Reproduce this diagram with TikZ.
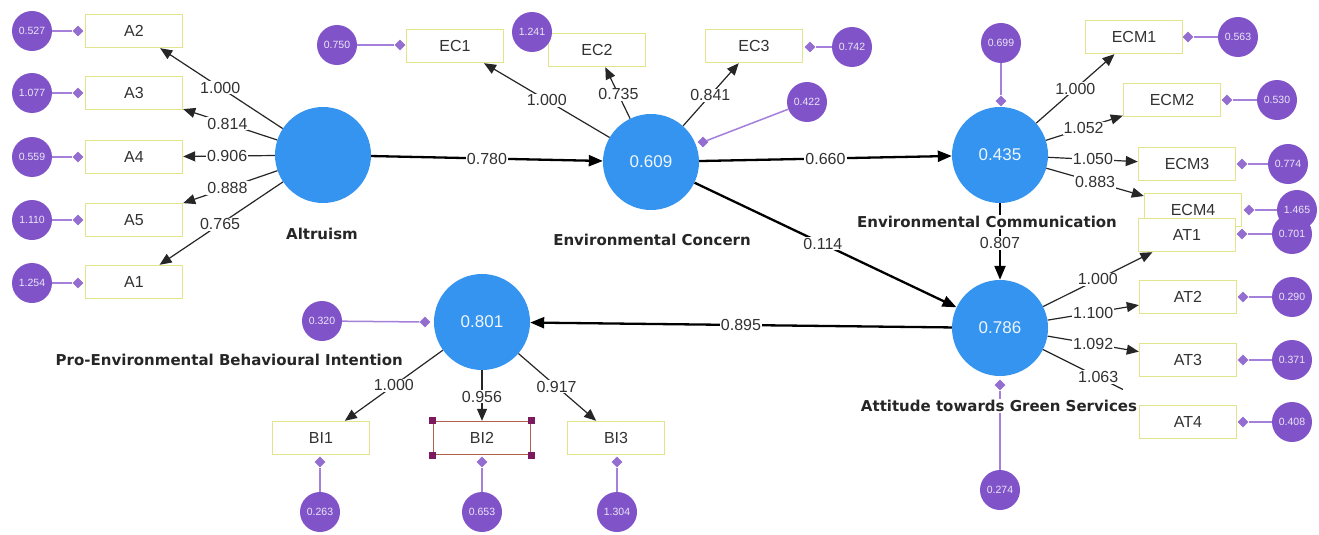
\documentclass[tikz,border=0pt]{standalone}
\usepackage{fontspec}
\setmainfont{Liberation Sans}
\newfontfamily\namefont{DejaVu Sans}
\usetikzlibrary{arrows.meta,shapes.geometric,calc}
\definecolor{lvblue}{RGB}{52,148,240}
\definecolor{respurple}{RGB}{128,84,200}
\definecolor{reslilac}{RGB}{165,128,218}
\definecolor{boxyel}{RGB}{226,228,140}
\definecolor{selbrown}{RGB}{175,95,75}
\definecolor{handlecol}{RGB}{125,25,95}
\definecolor{txtgray}{RGB}{50,50,50}
\begin{document}
\begin{tikzpicture}[x=1pt,y=-1pt,
  lv/.style={circle,fill=lvblue,minimum size=96pt,inner sep=0,text=white!92!lvblue,font=\fontsize{17}{19}\selectfont},
  ind/.style={draw=boxyel,line width=1.4pt,fill=white,minimum width=97pt,minimum height=33pt,inner sep=0,text=txtgray,font=\fontsize{16}{18}\selectfont},
  rc/.style={circle,fill=respurple,minimum size=40pt,inner sep=0,text=white!85!respurple,font=\fontsize{10.5}{11}\selectfont},
  dm/.style={diamond,fill=respurple!85,minimum size=11pt,inner sep=0},
  resline/.style={draw=reslilac,line width=1.5pt},
  struct/.style={draw=black,line width=2.3pt,-{Triangle[length=14pt,width=11pt]}},
  load/.style={draw=black!85,line width=1.2pt,-{Triangle[length=12pt,width=10pt]}},
  plainload/.style={draw=black!85,line width=1.2pt},
  lbl/.style={fill=white,inner sep=1pt,text=txtgray,font=\fontsize{16}{18}\selectfont},
  lvname/.style={fill=white,inner sep=1pt,text=black!85,font=\namefont\bfseries\fontsize{15}{17}\selectfont},
  handle/.style={rectangle,fill=handlecol,minimum size=7pt,inner sep=0},
]
\useasboundingbox[fill=white] (0,0) rectangle (1319,535);

% latent variables
\node[lv] (alt) at (323,155) {};
\node[lv] (ec) at (651,162) {0.609};
\node[lv] (ecm) at (1000,155) {0.435};
\node[lv] (at) at (1000,328) {0.786};
\node[lv] (bi) at (482,322) {0.801};

% indicators
\node[ind] (A2) at (134,31) {A2};
\node[ind] (A3) at (134,93) {A3};
\node[ind] (A4) at (134,157) {A4};
\node[ind] (A5) at (134,220) {A5};
\node[ind] (A1) at (134,282) {A1};

\node[ind] (EC1) at (455,46) {EC1};
\node[ind] (EC2) at (597,50) {EC2};
\node[ind] (EC3) at (754,46) {EC3};
\node[rc] (rEC2) at (532,32) {1.241};

\node[ind] (ECM1) at (1134,37) {ECM1};
\node[ind] (ECM2) at (1172,100) {ECM2};
\node[ind] (ECM3) at (1187,164) {ECM3};
\node[ind] (ECM4) at (1193,210) {ECM4};
\node[ind] (AT1) at (1187,235) {AT1};
\node[ind] (AT2) at (1188,297) {AT2};
\node[ind] (AT3) at (1188,360) {AT3};
\node[ind] (AT4) at (1188,422) {AT4};

\node[ind] (BI1) at (321,438) {BI1};
\node[ind,draw=selbrown] (BI2) at (482,438) {BI2};
\node[ind] (BI3) at (616,438) {BI3};
\node[handle] (h1) at (BI2.north west) {};
\node[handle] (h2) at (BI2.north east) {};
\node[handle] (h3) at (BI2.south west) {};
\node[handle] (h4) at (BI2.south east) {};

% indicator residuals
\node[rc] (rA2) at (32,31) {0.527};  \node[dm] (dA2) at (78,31) {};
\node[rc] (rA3) at (32,93) {1.077};  \node[dm] (dA3) at (78,93) {};
\node[rc] (rA4) at (32,157) {0.559}; \node[dm] (dA4) at (78,157) {};
\node[rc] (rA5) at (32,220) {1.110}; \node[dm] (dA5) at (78,220) {};
\node[rc] (rA1) at (32,283) {1.254}; \node[dm] (dA1) at (78,283) {};
\draw[resline] (rA2) -- (dA2);
\draw[resline] (rA3) -- (dA3);
\draw[resline] (rA4) -- (dA4);
\draw[resline] (rA5) -- (dA5);
\draw[resline] (rA1) -- (dA1);

\node[rc] (rEC1) at (337,45) {0.750}; \node[dm] (dEC1) at (400,45) {};
\node[rc] (rEC3) at (852,47) {0.742}; \node[dm] (dEC3) at (810,47) {};
\draw[resline] (rEC1) -- (dEC1);
\draw[resline] (rEC3) -- (dEC3);

\node[rc] (rECM1) at (1238,37) {0.563};  \node[dm] (dECM1) at (1188,37) {};
\node[rc] (rECM2) at (1277,100) {0.530}; \node[dm] (dECM2) at (1227,100) {};
\node[rc] (rECM3) at (1288,164) {0.774}; \node[dm] (dECM3) at (1242,164) {};
\draw[resline] (rECM1) -- (dECM1);
\draw[resline] (rECM2) -- (dECM2);
\draw[resline] (rECM3) -- (dECM3);
\node[dm] (dECM4) at (1249,210) {};
\draw[resline] (1297,210) -- (dECM4);
\node[rc] (rECM4) at (1297,210) {1.465};
\node[dm] (dAT1) at (1242,234) {};
\draw[resline] (1292,234) -- (dAT1);
\node[rc] (rAT1) at (1292,234) {0.701};
\node[rc] (rAT2) at (1292,297) {0.290}; \node[dm] (dAT2) at (1243,297) {};
\node[rc] (rAT3) at (1292,360) {0.371}; \node[dm] (dAT3) at (1243,360) {};
\node[rc] (rAT4) at (1292,422) {0.408}; \node[dm] (dAT4) at (1243,422) {};
\draw[resline] (rAT2) -- (dAT2);
\draw[resline] (rAT3) -- (dAT3);
\draw[resline] (rAT4) -- (dAT4);

\node[rc] (rBI1) at (320,512) {0.263}; \node[dm] (dBI1) at (320,462) {};
\node[rc] (rBI2) at (482,512) {0.653}; \node[dm] (dBI2) at (482,462) {};
\node[rc] (rBI3) at (617,512) {1.304}; \node[dm] (dBI3) at (617,462) {};
\draw[resline] (rBI1) -- (dBI1);
\draw[resline] (rBI2) -- (dBI2);
\draw[resline] (rBI3) -- (dBI3);

% latent residuals
\node[rc] (rEC) at (807,102) {0.422};   \node[dm] (dEC) at (703,142) {};
\node[rc] (rECM) at (1001,43) {0.699};  \node[dm] (dECM) at (1001,101) {};
\node[rc] (rAT) at (1000,490) {0.274};  \node[dm] (dAT) at (1000,385) {};
\node[rc] (rBI) at (322,321) {0.320};   \node[dm] (dBI) at (425,322) {};
\draw[resline] (rEC) -- (dEC);
\draw[resline] (rECM) -- (dECM);
\draw[resline] (rAT) -- (dAT);
\draw[resline] (rBI) -- (dBI);

% structural paths
\draw[struct] (alt) -- node[lbl,pos=0.5]{0.780} (ec);
\draw[struct] (ec) -- node[lbl,pos=0.5]{0.660} (ecm);
\draw[struct] (ec) -- node[lbl,pos=0.49]{0.114} (at);
\draw[struct] (ecm) -- node[lbl,pos=0.52]{0.807} (at);
\draw[struct] (at) -- node[lbl,pos=0.5]{0.895} (bi);

% loadings
\draw[load] (alt) -- node[lbl,pos=0.51]{1.000} (A2);
\draw[load] (alt) -- node[lbl,pos=0.53]{0.814} (A3);
\draw[load] (alt) -- node[lbl,pos=0.52]{0.906} (A4);
\draw[load] (alt) -- node[lbl,pos=0.53]{0.888} (A5);
\draw[load] (alt) -- node[lbl,pos=0.51]{0.765} (A1);

\draw[load] (ec) -- node[lbl,pos=0.50]{1.000} (EC1);
\draw[load] (ec) -- node[lbl,pos=0.47]{0.735} (EC2);
\draw[load] (ec) -- node[lbl,pos=0.49]{0.841} (EC3);

\draw[load] (ecm) -- node[lbl,pos=0.5]{1.000} (ECM1);
\draw[load] (ecm) -- node[lbl,pos=0.49]{1.052} (ECM2);
\draw[load] (ecm) -- node[lbl,pos=0.5]{1.050} (ECM3);
\draw[load] (ecm) -- node[lbl,pos=0.5]{0.883} (ECM4);

\draw[load] (at) -- node[lbl,pos=0.5]{1.000} (AT1);
\draw[load] (at) -- node[lbl,pos=0.5]{1.100} (AT2);
\draw[load] (at) -- node[lbl,pos=0.5]{1.092} (AT3);
\coordinate (at4cut) at ($(at.center)!0.654!(AT4.center)$);
\draw[plainload] (at) -- node[lbl,pos=0.69]{1.063} (at4cut);

\draw[load] (bi) -- node[lbl,pos=0.50]{1.000} (BI1);
\draw[load] (bi) -- node[lbl,pos=0.52]{0.956} (BI2);
\draw[load] (bi) -- node[lbl,pos=0.49]{0.917} (BI3);

% latent names
\node[lvname] (nalt) at (322,234) {Altruism};
\node[lvname] (nec) at (652,240) {Environmental Concern};
\node[lvname] (necm) at (987,222) {Environmental Communication};
\node[lvname] (nat) at (999,406) {Attitude towards Green Services};
\node[lvname,anchor=east] (nbi) at (404,360) {Pro-Environmental Behavioural Intention};
\end{tikzpicture}
\end{document}
